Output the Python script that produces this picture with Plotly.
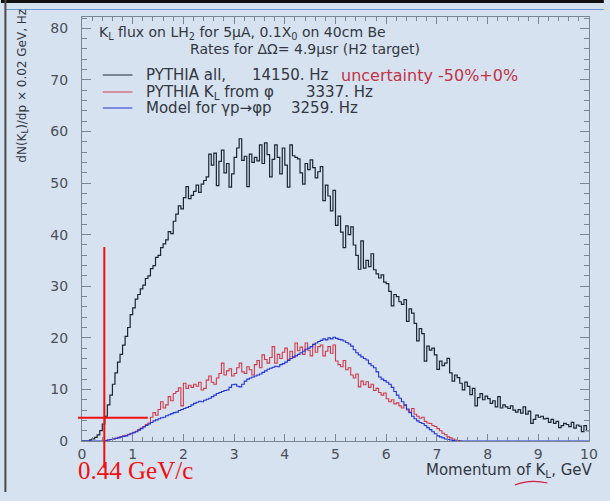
import plotly.graph_objects as go

# ---------------------------------------------------------------
# K_L flux spectra, histogrammed in 0.05 GeV bins (left edges below)
# ---------------------------------------------------------------
BIN = 0.05

# PYTHIA all (bins start at 0.00 GeV)
pythia_all = [
    0.0, 0.0, 0.0, 0.2, 0.4, 0.7, 1.2, 2.0, 3.3, 4.8,
    7.0, 8.9, 11.0, 13.2, 15.3, 16.8, 18.6, 20.3, 22.0, 24.5,
    25.8, 27.5, 28.4, 29.5, 30.2, 31.5, 32.0, 33.4, 34.0, 35.6,
    36.0, 37.5, 38.2, 39.0, 40.6, 40.2, 42.6, 44.0, 45.6, 45.0,
    47.2, 49.3, 47.0, 47.6, 48.4, 49.6, 48.2, 49.8, 50.5, 51.2,
    55.6, 53.5, 55.8, 49.5, 54.2, 56.4, 52.0, 53.8, 49.2, 51.8,
    55.0, 56.8, 58.6, 54.4, 55.2, 49.3, 55.6, 54.0, 55.0, 54.3,
    57.4, 53.8, 57.8, 55.5, 51.2, 54.6, 57.4, 55.0, 51.8, 56.8,
    53.5, 49.2, 57.4, 55.3, 55.0, 54.7, 52.0, 49.8, 53.8, 52.6,
    54.5, 53.0, 51.0, 52.2, 53.2, 46.6, 49.6, 47.5, 44.6, 48.6,
    41.8, 43.6, 40.5, 37.5, 41.7, 40.0, 41.5, 38.0, 36.0, 33.3,
    38.8, 33.5, 35.0, 33.8, 36.3, 33.2, 32.4, 31.6, 32.2, 30.8,
    30.5, 29.0, 26.2, 28.4, 28.0, 27.0, 26.5, 27.4, 23.2, 25.6,
    24.8, 22.8, 19.4, 21.8, 20.8, 15.5, 18.4, 17.6, 18.0, 16.7,
    13.9, 15.5, 14.6, 15.1, 16.0, 13.2, 11.6, 12.8, 12.3, 11.2,
    9.9, 11.4, 10.6, 9.0, 10.2, 6.8, 8.4, 9.2, 8.0, 8.7,
    8.2, 7.3, 7.8, 6.6, 8.6, 6.4, 7.0, 6.6, 6.3, 6.8,
    6.0, 5.6, 6.1, 5.4, 6.6, 5.2, 5.8, 3.4, 4.2, 5.0,
    4.6, 4.8, 4.3, 4.4, 3.6, 4.2, 3.4, 3.8, 2.6, 3.0,
    3.4, 3.2, 2.8, 3.6, 2.5, 3.1, 2.9, 1.8, 3.0, 2.0,
]

# PYTHIA K_L from phi (bins start at 0.40 GeV)
kl_from_phi_start = 0.40
kl_from_phi = [
    0.0, 0.1, 0.2, 0.3, 0.4, 0.5, 0.7, 0.8, 1.0, 1.1,
    1.3, 1.5, 1.7, 1.9, 2.2, 2.5, 2.8, 3.2, 3.5, 4.6,
    5.5, 5.0, 6.1, 7.6, 6.4, 7.0, 8.6, 7.8, 9.2, 9.6,
    10.3, 6.8, 11.2, 10.2, 10.8, 10.4, 11.0, 10.6, 11.4, 9.9,
    10.2, 11.8, 12.6, 11.4, 11.0, 12.2, 13.1, 15.1, 12.8, 13.6,
    14.0, 12.6, 13.1, 14.2, 15.1, 13.4, 13.1, 14.4, 13.8, 12.8,
    14.8, 15.6, 14.2, 16.7, 15.8, 15.1, 16.2, 18.3, 15.1, 16.8,
    16.0, 17.2, 18.0, 15.8, 17.4, 16.2, 19.0, 17.5, 18.2, 16.8,
    19.0, 17.6, 16.5, 18.8, 17.2, 18.3, 18.6, 16.5, 17.4, 18.3,
    17.0, 18.6, 15.5, 14.8, 14.4, 15.6, 13.8, 14.2, 12.8, 12.2,
    13.0, 10.5, 11.6, 10.9, 11.5, 10.4, 11.0, 9.8, 10.2, 9.4,
    8.9, 9.3, 8.2, 7.6, 8.0, 7.2, 7.4, 6.8, 6.4, 6.9,
    6.0, 5.6, 6.3, 5.2, 4.8, 4.4, 4.6, 3.8, 3.5, 3.4,
    3.0, 2.8, 2.4, 2.0, 1.5, 1.2, 0.8, 0.6, 0.4, 0.2,
    0.1, 0.0,
]

# Model for gamma p -> phi p (bins start at 0.40 GeV; zero elsewhere in 0-10 GeV)
model_start = 0.40
model_gp = [
    0.0, 0.1, 0.2, 0.3, 0.4, 0.5, 0.6, 0.8, 0.9, 1.0,
    1.2, 1.4, 1.6, 1.8, 2.1, 2.4, 2.7, 3.0, 3.3, 3.6,
    3.9, 4.1, 4.3, 4.5, 4.6, 4.9, 5.1, 5.3, 5.5, 5.6,
    5.9, 6.1, 6.3, 6.5, 6.7, 7.0, 7.3, 7.5, 7.7, 7.6,
    7.9, 8.1, 8.3, 8.6, 8.9, 9.2, 9.4, 9.6, 9.8, 9.9,
    10.4, 10.9, 11.0, 10.6, 10.5, 11.0, 11.6, 12.0, 12.2, 12.4,
    12.6, 12.8, 13.0, 13.3, 13.6, 13.9, 14.1, 14.3, 14.5, 14.4,
    14.8, 15.0, 15.3, 15.6, 16.0, 16.3, 16.5, 16.8, 17.1, 17.4,
    17.8, 18.0, 18.3, 18.7, 19.0, 19.3, 19.5, 19.8, 19.6, 20.0,
    19.8, 20.1, 19.9, 19.7, 19.6, 19.4, 19.1, 18.8, 18.4, 17.7,
    17.1, 16.7, 16.3, 16.0, 15.7, 15.0, 14.6, 14.2, 13.4, 12.4,
    12.0, 11.7, 11.4, 11.0, 10.4, 9.6, 8.9, 8.3, 7.6, 7.0,
    6.2, 5.5, 4.8, 4.3, 3.9, 3.6, 3.4, 3.0, 2.6, 2.2,
    1.8, 1.4, 1.0, 0.8, 0.6, 0.4, 0.3, 0.2, 0.1, 0.0,
]

# axis and marker settings
X_RANGE = [0, 10]
Y_RANGE = [0, 82.2]
x_ticks = list(range(0, 11))
y_ticks = list(range(0, 81, 10))
kl_threshold = 0.44          # GeV/c, marked with the red cross
kl_threshold_level = 4.5     # flux level at that momentum

BG = "#d6e2f0"
FONT = "DejaVu Sans"
C_BLACK = "#1c2632"
C_RED = "#d23a4a"
C_BLUE = "#2234d6"
C_AXIS = "#7c8594"
C_TEXT = "#33373f"

# plot area in pixels (figure 610 x 501)
L, R, T, B = 82, 15, 17, 60
W, H = 610, 501
PW, PH = W - L - R, H - T - B


def px_x(px):
    return (px - L) / PW


def px_y(py):
    return (H - B - py) / PH


def data_x(v):
    return (v - X_RANGE[0]) / (X_RANGE[1] - X_RANGE[0])


def data_y(v):
    return (v - Y_RANGE[0]) / (Y_RANGE[1] - Y_RANGE[0])


def steps(start, values, full_range=False):
    xs = [start + i * BIN for i in range(len(values))] + [start + len(values) * BIN]
    ys = list(values) + [values[-1]]
    if full_range:
        # empty bins outside the filled part run along the zero line
        xs = [X_RANGE[0]] + xs + [X_RANGE[1]]
        ys = [0.0] + ys[:-1] + [0.0, 0.0]
    return xs, ys


fig = go.Figure()
for start, vals, col, full, width in [
    (0.0, pythia_all, C_BLACK, False, 1.2),
    (kl_from_phi_start, kl_from_phi, C_RED, False, 1.1),
    (model_start, model_gp, C_BLUE, True, 1.1),
]:
    xs, ys = steps(start, vals, full)
    fig.add_trace(go.Scatter(
        x=xs, y=ys, mode="lines", line=dict(color=col, width=width, shape="hv"),
        hoverinfo="skip", showlegend=False, cliponaxis=False,
    ))

axis_common = dict(
    showline=True, linecolor=C_AXIS, linewidth=1, mirror="allticks",
    ticks="inside", tickcolor=C_AXIS, showgrid=False, zeroline=False,
    tickfont=dict(family=FONT, size=14, color="#4a4f58"),
)
fig.update_xaxes(
    range=X_RANGE, tickvals=x_ticks, ticklen=7, tickwidth=1,
    minor=dict(dtick=0.2, ticklen=4, ticks="inside", tickcolor=C_AXIS, showgrid=False),
    ticklabelstandoff=0, **axis_common,
)
fig.update_yaxes(
    range=Y_RANGE, tickvals=y_ticks, ticklen=9, tickwidth=1,
    minor=dict(dtick=2, ticklen=5, ticks="inside", tickcolor=C_AXIS, showgrid=False),
    ticklabelstandoff=10, **axis_common,
)

ann = []
txt = dict(family=FONT, size=15, color=C_TEXT)
# header lines
ann.append(dict(x=px_x(97), y=px_y(33), text="K<sub>L</sub> flux on LH<sub>2</sub> for 5μA, 0.1X<sub>0</sub> on 40cm Be",
                font=dict(family=FONT, size=14, color=C_TEXT), xanchor="left"))
ann.append(dict(x=px_x(189), y=px_y(49), text="Rates for ΔΩ= 4.9μsr (H2 target)",
                font=dict(family=FONT, size=14, color=C_TEXT), xanchor="left"))
# legend entries
legend_rows = [
    (75, C_BLACK, "PYTHIA all,", 334, "14150. Hz"),
    (92, C_RED, "PYTHIA K<sub>L</sub> from φ", 378, "3337. Hz"),
    (108, C_BLUE, "Model for γp→φp", 363, "3259. Hz"),
]
shapes = []
for py, col, label, rate_x, rate in legend_rows:
    shapes.append(dict(type="line", xref="paper", yref="paper", x0=px_x(103), x1=px_x(133),
                       y0=px_y(py), y1=px_y(py), line=dict(color=col, width=1)))
    ann.append(dict(x=px_x(145), y=px_y(py), text=label, font=txt, xanchor="left"))
    ann.append(dict(x=px_x(rate_x), y=px_y(py), text=rate, font=txt, xanchor="right"))
ann.append(dict(x=px_x(342), y=px_y(75), text="uncertainty -50%+0%",
                font=dict(family=FONT, size=16, color="#c23246"), xanchor="left"))

# axis titles
ann.append(dict(x=px_x(22), y=px_y(7), text="dN(K<sub>L</sub>)/dp × 0.02 GeV, Hz", textangle=-90,
                font=dict(family=FONT, size=12, color=C_TEXT), xanchor="center", yanchor="top"))
ann.append(dict(x=px_x(601), y=px_y(470), text="Momentum of K<sub>L</sub>, GeV",
                font=dict(family=FONT, size=15, color=C_TEXT), xanchor="right"))

# threshold label
ann.append(dict(x=px_x(76), y=px_y(470), text="0.44 GeV/c",
                font=dict(family="Liberation Serif", size=25, color="#f01010"), xanchor="left"))

for a in ann:
    a.update(xref="paper", yref="paper", showarrow=False, yanchor=a.get("yanchor", "middle"))

# red cross marking the 0.44 GeV/c threshold
shapes.append(dict(type="line", xref="paper", yref="paper",
                   x0=data_x(kl_threshold), x1=data_x(kl_threshold),
                   y0=data_y(37.6), y1=px_y(468), line=dict(color="#f01010", width=2)))
shapes.append(dict(type="line", xref="paper", yref="paper",
                   x0=data_x(-0.08), x1=data_x(1.3),
                   y0=data_y(kl_threshold_level), y1=data_y(kl_threshold_level),
                   line=dict(color="#f01010", width=2)))
# pen stroke under K_L in the axis title
shapes.append(dict(type="path", xref="paper", yref="paper",
                   path=f"M {px_x(520)} {px_y(485)} Q {px_x(535)} {px_y(479)} {px_x(553)} {px_y(483)}",
                   line=dict(color="#d02040", width=1.2)))
# outer frame
shapes.append(dict(type="rect", xref="paper", yref="paper", x0=px_x(0), x1=px_x(W), y0=px_y(0), y1=px_y(3),
                   fillcolor="#101010", line=dict(width=0), layer="above"))
shapes.append(dict(type="line", xref="paper", yref="paper", x0=px_x(5), x1=px_x(W), y0=px_y(9.5), y1=px_y(9.5),
                   line=dict(color="#6f9ad8", width=1)))
shapes.append(dict(type="line", xref="paper", yref="paper", x0=px_x(4.5), x1=px_x(4.5), y0=px_y(0), y1=px_y(492),
                   line=dict(color="#4a4a4a", width=2)))

fig.update_layout(
    width=W, height=H, margin=dict(l=L, r=R, t=T, b=B),
    paper_bgcolor=BG, plot_bgcolor=BG,
    annotations=ann, shapes=shapes, showlegend=False,
)

fig.write_html("out.html")
